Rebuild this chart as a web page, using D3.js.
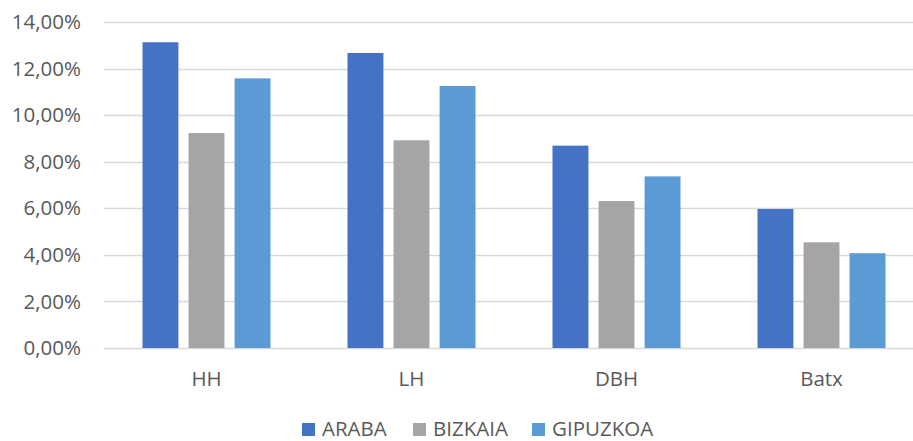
<!DOCTYPE html>
<html>
<head>
<meta charset="utf-8">
<script src="https://cdn.jsdelivr.net/npm/d3@7"></script>
<style>
  body { margin: 0; background: #fff; }
  text { font-family: "Open Sans", sans-serif; fill: #595959; }
</style>
</head>
<body>
<div id="chart"></div>
<script>
// data
const categories = ["HH", "LH", "DBH", "Batx"];
const seriesNames = ["ARABA", "BIZKAIA", "GIPUZKOA"];
const araba = [0.1313, 0.1267, 0.0869, 0.0597];
const bizkaia = [0.0923, 0.0892, 0.0631, 0.0454];
const gipuzkoa = [0.1158, 0.1125, 0.0737, 0.0407];
const yTicks = [0, 0.02, 0.04, 0.06, 0.08, 0.10, 0.12, 0.14];
const colors = ["#4472C4", "#A5A5A5", "#5B9BD5"];

const width = 913, height = 441;
const plotLeft = 104, plotTop = 22, plotBottom = 348;
const plotW = 820; // continues past the right edge, like the original

const series = [araba, bizkaia, gipuzkoa];

let svg = d3.select("#chart").append("svg")
	.attr("width", width)
	.attr("height", height);

const y = d3.scaleLinear().domain([0, 0.14]).range([plotBottom, plotTop]);
const x0 = d3.scaleBand().domain(categories).range([plotLeft, plotLeft + plotW]);
// inner band for the three bars of each group
const groupW = 128;
const x1 = d3.scaleBand().domain(seriesNames).range([0, groupW]).paddingInner(0.22);

const fmt = v => (v * 100).toFixed(2).replace(".", ",") + "%";

// gridlines
svg.append("g")
	.selectAll("line")
	.data(yTicks)
	.join("line")
	.attr("x1", plotLeft)
	.attr("x2", plotLeft + plotW)
	.attr("y1", d => Math.round(y(d)) + 0.5)
	.attr("y2", d => Math.round(y(d)) + 0.5)
	.attr("stroke", "#D9D9D9")
	.attr("stroke-width", 1.5);

// y labels
svg.append("g")
	.selectAll("text")
	.data(yTicks)
	.join("text")
	.attr("x", 81)
	.attr("y", d => y(d))
	.attr("dy", "0.35em")
	.attr("text-anchor", "end")
	.style("font-size", "20.5px")
	.text(fmt);

// bars
const groups = svg.append("g")
	.selectAll("g")
	.data(categories)
	.join("g")
	.attr("transform", c => `translate(${x0(c) + (x0.bandwidth() - groupW) / 2},0)`);

groups.selectAll("rect")
	.data((c, i) => series.map((s, k) => ({name: seriesNames[k], value: s[i], k})))
	.join("rect")
	.attr("x", d => x1(d.name))
	.attr("width", x1.bandwidth())
	.attr("y", d => y(d.value))
	.attr("height", d => plotBottom - y(d.value))
	.attr("fill", d => colors[d.k]);

// x labels
svg.append("g")
	.selectAll("text")
	.data(categories)
	.join("text")
	.attr("x", c => x0(c) + x0.bandwidth() / 2)
	.attr("y", 386)
	.attr("text-anchor", "middle")
	.style("font-size", "20.5px")
	.text(c => c);

// legend
const legendX = [302, 413, 532];
const legend = svg.append("g")
	.selectAll("g")
	.data(seriesNames)
	.join("g")
	.attr("transform", (d, i) => `translate(${legendX[i]},0)`);
legend.append("rect")
	.attr("y", 423)
	.attr("width", 13)
	.attr("height", 13)
	.attr("fill", (d, i) => colors[i]);
legend.append("text")
	.attr("x", 20)
	.attr("y", 436)
	.style("font-size", "20.5px")
	.text(d => d);
</script>
</body>
</html>
